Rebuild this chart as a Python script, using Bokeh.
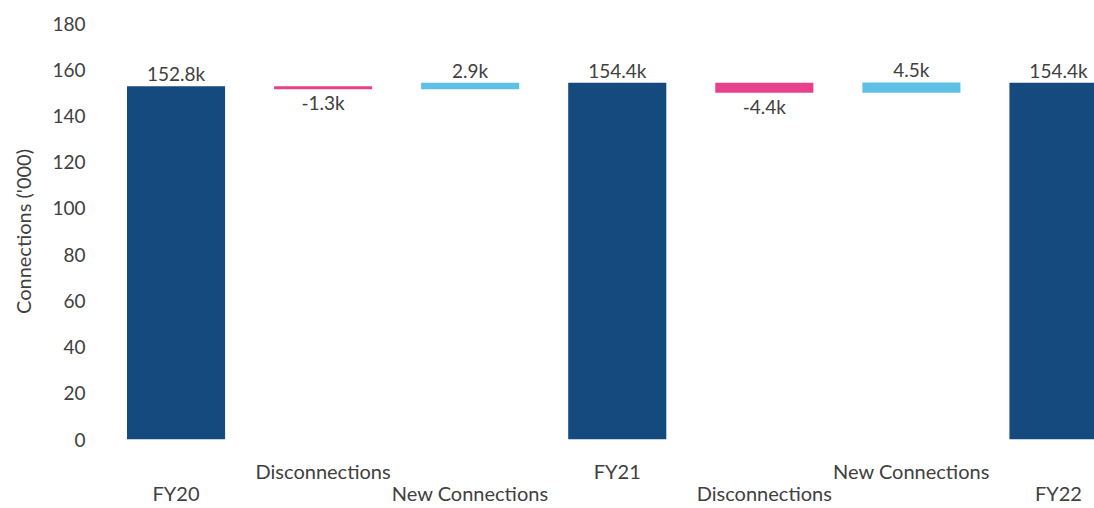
from bokeh.plotting import figure
from bokeh.models import Range1d, FixedTicker, LinearAxis, ColumnDataSource
from bokeh.embed import file_html
from bokeh.resources import INLINE
from bokeh.core.properties import value

categories = ["FY20", "Disconnections", "New Connections", "FY21", "Disconnections", "New Connections", "FY22"]
changes = [152.8, -1.3, 2.9, 154.4, -4.4, 4.5, 154.4]
kinds = ["total", "neg", "pos", "total", "neg", "pos", "total"]
labels = ["152.8k", "-1.3k", "2.9k", "154.4k", "-4.4k", "4.5k", "154.4k"]
y_ticks = [0, 20, 40, 60, 80, 100, 120, 140, 160, 180]

COL = {"total": "#154a7e", "neg": "#e8408a", "pos": "#5ec0e6"}
FONT = "Lato"
TXT = "#404040"

xs, bottoms, tops, colors, lab_y = [], [], [], [], []
running = 0.0
for i, (c, k) in enumerate(zip(changes, kinds)):
    xs.append(i)
    if k == "total":
        b, t = 0.0, c
        running = c
    else:
        b, t = running, running + c
        running = running + c
    lo, hi = min(b, t), max(b, t)
    bottoms.append(lo)
    tops.append(hi)
    colors.append(COL[k])
    lab_y.append(lo if k == "neg" else hi)

src = ColumnDataSource(dict(x=xs, bottom=bottoms, top=tops, color=colors))

p = figure(width=1094, height=508, output_backend="svg", toolbar_location=None,
           x_range=Range1d(-0.5, 6.245), y_range=Range1d(0, 180),
           min_border_left=102, min_border_right=0, min_border_top=23, min_border_bottom=69,
           x_axis_location=None)
p.outline_line_color = None
p.background_fill_color = "white"
p.border_fill_color = "white"
p.xgrid.grid_line_color = None
p.ygrid.grid_line_color = None

p.vbar(x="x", bottom="bottom", top="top", width=0.667, fill_color="color",
       line_color=None, source=src)

neg = ColumnDataSource(dict(x=[xs[i] for i in range(7) if kinds[i] == "neg"],
                            y=[lab_y[i] for i in range(7) if kinds[i] == "neg"],
                            t=[labels[i] for i in range(7) if kinds[i] == "neg"]))
posl = ColumnDataSource(dict(x=[xs[i] for i in range(7) if kinds[i] != "neg"],
                             y=[lab_y[i] for i in range(7) if kinds[i] != "neg"],
                             t=[labels[i] for i in range(7) if kinds[i] != "neg"]))
p.text(x="x", y="y", text="t", source=posl, text_align="center", text_baseline="bottom",
       y_offset=-1, text_font=value(FONT), text_font_size="19px", text_color=TXT)
p.text(x="x", y="y", text="t", source=neg, text_align="center", text_baseline="top",
       y_offset=2, text_font=value(FONT), text_font_size="19px", text_color=TXT)

ya = p.yaxis[0]
ya.ticker = FixedTicker(ticks=y_ticks)
ya.axis_line_color = None
ya.major_tick_line_color = None
ya.minor_tick_line_color = None
ya.major_tick_out = 0
ya.major_label_standoff = 17
ya.major_label_text_font = FONT
ya.major_label_text_font_size = "19px"
ya.major_label_text_color = TXT
ya.axis_label = "Connections ('000)"
ya.axis_label_text_font = FONT
ya.axis_label_text_font_size = "20px"
ya.axis_label_text_font_style = "normal"
ya.axis_label_text_color = TXT
ya.axis_label_standoff = 14

upper_idx = [1, 3, 5]
lower_idx = [0, 2, 4, 6]
for idx, standoff in ((upper_idx, 19), (lower_idx, -5)):
    ax = LinearAxis(ticker=FixedTicker(ticks=[xs[i] for i in idx]),
                    major_label_overrides={xs[i]: categories[i] for i in idx})
    ax.axis_line_color = None
    ax.major_tick_line_color = None
    ax.minor_tick_line_color = None
    ax.major_tick_out = 0
    ax.major_tick_in = 0
    ax.major_label_standoff = standoff
    ax.major_label_text_font = FONT
    ax.major_label_text_font_size = "20px"
    ax.major_label_text_color = TXT
    p.add_layout(ax, "below")

open("out.html", "w").write(file_html(p, INLINE))
